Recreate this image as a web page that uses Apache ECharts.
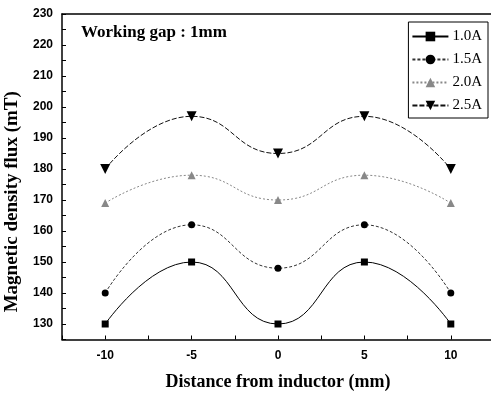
<!DOCTYPE html>
<html><head><meta charset="utf-8">
<script src="https://cdn.jsdelivr.net/npm/echarts@6/dist/echarts.min.js"></script>
<style>html,body{margin:0;padding:0;background:#fff}#c{width:491px;height:394px}</style>
</head><body><div id="c"></div>
<script>
const xValues = [-10, -5, 0, 5, 10];
const seriesNames = ['1.0A', '1.5A', '2.0A', '2.5A'];
const s10 = [130, 150, 130, 150, 130];
const s15 = [140, 162, 148, 162, 140];
const s20 = [169, 178, 170, 178, 169];
const s25 = [180, 197, 185, 197, 180];
const xLabelValues = [-10, -5, 0, 5, 10];
const yLabelValues = [130, 140, 150, 160, 170, 180, 190, 200, 210, 220, 230];

const pairs = v => xValues.map((x, i) => [x, v[i]]);
const serif = '"Liberation Serif", "DejaVu Serif", serif';
const sans = '"Liberation Sans", Arial, sans-serif';

function mk(name, data, symbol, size, color, lineType, lineColor, rotate) {
  return {
    name, type: 'line', data: pairs(data), smooth: 0.5,
    symbol, symbolSize: size, symbolRotate: rotate || 0,
    itemStyle: { color: color, borderWidth: 0 },
    lineStyle: { color: lineColor, width: 1, type: lineType },
    emphasis: { disabled: true }
  };
}

const chart = echarts.init(document.getElementById('c'), null, { renderer: 'canvas' });
chart.setOption({
  animation: false,
  backgroundColor: '#fff',
  grid: { left: 62, right: -3, top: 14, bottom: 54.5, containLabel: false, outerBoundsMode: 'none' },
  xAxis: [{
    type: 'value', min: -12.5, max: 12.5, interval: 2.5,
    name: 'Distance from inductor (mm)', nameLocation: 'middle', nameGap: 34,
    nameTextStyle: { fontFamily: serif, fontWeight: 'bold', fontSize: 18, color: '#000' },
    axisLine: { show: true, onZero: false, lineStyle: { color: '#000', width: 1.5 } },
    axisTick: { show: true, inside: true, length: 4, lineStyle: { color: '#000' } },
    axisLabel: {
      margin: 10, fontFamily: sans, fontWeight: 'bold', fontSize: 12, color: '#000',
      formatter: v => xLabelValues.includes(v) ? String(v) : ''
    },
    splitLine: { show: false }
  }, {
    type: 'value', position: 'top', min: -12.5, max: 12.5,
    axisLine: { show: true, onZero: false, lineStyle: { color: '#000', width: 1.5 } },
    axisTick: { show: false }, axisLabel: { show: false }, splitLine: { show: false }
  }],
  yAxis: {
    type: 'value', min: 125, max: 230, interval: 5,
    name: 'Magnetic density flux (mT)', nameLocation: 'middle', nameGap: 33,
    nameTextStyle: { fontFamily: serif, fontWeight: 'bold', fontSize: 19, color: '#000', padding: [0, 50, 0, 0] },
    axisLine: { show: true, onZero: false, lineStyle: { color: '#000', width: 1.5 } },
    axisTick: { show: true, inside: true, length: 4, lineStyle: { color: '#000' } },
    axisLabel: {
      margin: 9, fontFamily: sans, fontWeight: 'bold', fontSize: 12, color: '#000',
      formatter: v => yLabelValues.includes(v) ? String(v) : ''
    },
    splitLine: { show: false }
  },
  legend: {
    data: seriesNames, orient: 'vertical', right: 3, top: 22,
    padding: [7, 6, 5, 3], itemGap: 8, itemWidth: 36, itemHeight: 12,
    borderColor: '#000', borderWidth: 1, borderRadius: 0,
    textStyle: { fontFamily: serif, fontSize: 15, color: '#000', padding: [0, 0, 0, -1] }
  },
  graphic: [{
    type: 'text', left: 81, top: 24,
    style: { text: 'Working gap : 1mm', font: 'bold 17px ' + serif, fill: '#000' }
  }],
  series: [
    mk(seriesNames[0], s10, 'rect', 7, '#000', 'solid', '#000'),
    mk(seriesNames[1], s15, 'circle', 7, '#000', [3, 2], '#333'),
    mk(seriesNames[2], s20, 'triangle', 8, '#888', [2, 2], '#888'),
    mk(seriesNames[3], s25, 'triangle', 10, '#000', [5, 2], '#111', 180)
  ]
});
</script></body></html>
